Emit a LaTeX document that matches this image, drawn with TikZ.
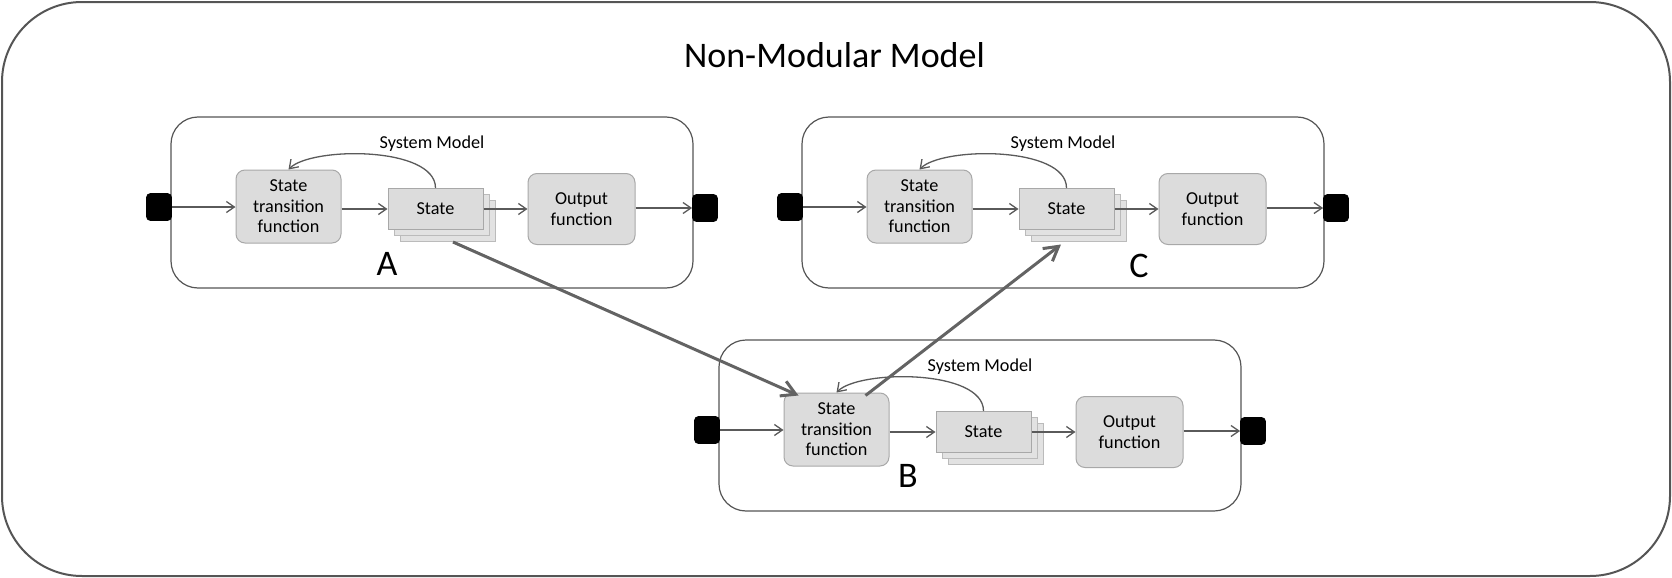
\documentclass[tikz,border=0pt]{standalone}
\usepackage{fontspec}
\setmainfont{Carlito}
\usetikzlibrary{arrows.meta}
\definecolor{framec}{HTML}{555555}
\definecolor{nodefill}{HTML}{DCDCDC}
\definecolor{nodeline}{HTML}{A8A8A8}
\definecolor{backfill}{HTML}{E2E2E2}
\definecolor{backline}{HTML}{BBBBBB}
\definecolor{thinarrow}{HTML}{5A5A5A}
\definecolor{bigarrow}{HTML}{636363}
\tikzset{
 smallfont/.style={font=\fontsize{9.1}{10.3}\selectfont},
 bigfont/.style={font=\fontsize{18}{21}\selectfont},
 sysbox/.style={draw=framec, line width=0.6pt, rounded corners=13.5pt, minimum width=261pt, minimum height=85.5pt, inner sep=0pt},
 funcbox/.style={draw=nodeline, fill=nodefill, line width=0.5pt, rounded corners=4.5pt, align=center, smallfont, inner sep=0pt},
 statebox/.style={draw=nodeline, fill=nodefill, line width=0.5pt, minimum width=47.5pt, minimum height=20.5pt, inner sep=0pt, smallfont},
 backbox/.style={draw=backline, fill=backfill, line width=0.5pt, minimum width=47.5pt, minimum height=20.5pt, inner sep=0pt},
 port/.style={fill=black, draw=black, rounded corners=2pt, minimum width=12.5pt, minimum height=13.5pt, inner sep=0pt},
 flow/.style={draw=thinarrow, line width=0.65pt, -{Straight Barb[length=4pt,width=5.5pt]}},
 link/.style={draw=bigarrow, line width=1.5pt, -{Straight Barb[length=7pt,width=8pt]}},
}
\newcommand\sysmodel[3]{%
\begin{scope}[shift={(#2,#3)}]
 \node[sysbox] (#1box) at (261,85.5) {};
 \node[smallfont, anchor=base, inner sep=0pt] (#1lbl) at (261,31) {System Model};
 \node[port] (#1in) at (-12,90) {};
 \node[port] (#1out) at (534,91) {};
 \node[funcbox, minimum width=52.5pt, minimum height=36.5pt] (#1stf) at (117.5,89.5) {State\\transition\\function};
 \node[backbox] (#1st3) at (276.5,104) {};
 \node[backbox] (#1st2) at (270.5,98) {};
 \node[statebox] (#1st) at (264.5,92) {State};
 \node[funcbox, minimum width=53.5pt, minimum height=35.5pt] (#1of) at (410.5,92) {Output\\function};
 \draw[flow] (#1in.east) -- (#1in.east -| #1stf.west);
 \draw[flow] (#1stf.east |- #1st.west) -- (#1st.west);
 \draw[flow] (#1st.east) -- (#1st.east -| #1of.west);
 \draw[flow] (#1of.east |- #1out.west) -- (#1out.west);
 \draw[flow] (#1st.north) .. controls +(0,-42) and +(22.5,-23) .. (#1stf.north);
\end{scope}}
\begin{document}
\begin{tikzpicture}[x=0.5pt,y=-0.5pt]
\useasboundingbox (0,0) rectangle (1672,578);
\node[draw=framec, line width=1pt, rounded corners=40pt, minimum width=834pt, minimum height=287pt, inner sep=0pt] (frame) at (836,289) {};
\node[bigfont, anchor=base, inner sep=0pt] (title) at (834.5,68) {Non-Modular Model};
\sysmodel{A}{171}{117}
\sysmodel{C}{802}{117}
\sysmodel{B}{719}{340}
\node[bigfont, anchor=base, inner sep=0pt] (la) at (387,275) {A};
\node[bigfont, anchor=base, inner sep=0pt] (lb) at (908,487) {B};
\node[bigfont, anchor=base, inner sep=0pt] (lc) at (1139,277) {C};
\draw[link] ([xshift=2.75pt]Ast3.south) -- ([xshift=7.5pt,yshift=-1.5pt]Bstf.north west);
\draw[link] ([xshift=-12pt,yshift=-1.5pt]Bstf.north east) -- ([xshift=-8.75pt,yshift=-1.25pt]Cst3.south);
\end{tikzpicture}
\end{document}
